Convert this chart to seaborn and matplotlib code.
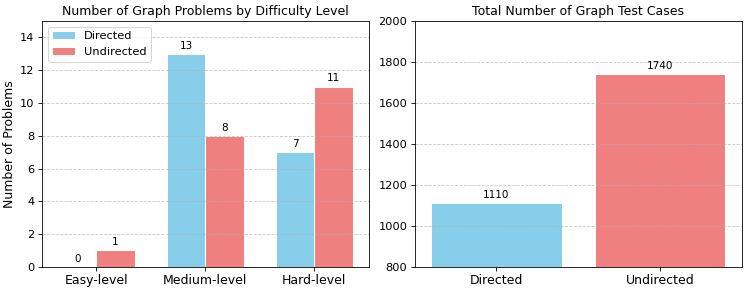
import matplotlib
matplotlib.use("Agg")
import matplotlib.pyplot as plt
import seaborn as sns
import pandas as pd

# data
levels = ["Easy-level", "Medium-level", "Hard-level"]
directed_counts = [0, 13, 7]
undirected_counts = [1, 8, 11]
graph_types = ["Directed", "Undirected"]
test_cases = [1110, 1740]

colors = ["skyblue", "lightcoral"]

df_levels = pd.DataFrame({
    "level": levels * 2,
    "count": directed_counts + undirected_counts,
    "type": ["Directed"] * len(levels) + ["Undirected"] * len(levels),
})
df_cases = pd.DataFrame({"type": graph_types, "cases": test_cases})

plt.rcParams["font.family"] = ["DejaVu Sans"]

fig, (ax1, ax2) = plt.subplots(1, 2, figsize=(10, 3.909), dpi=74.7)
fig.subplots_adjust(left=0.056, right=0.993, top=0.928, bottom=0.086, wspace=0.14)

# left: problems by difficulty
sns.barplot(data=df_levels, x="level", y="count", hue="type", palette=colors,
            saturation=1, width=0.7, edgecolor="white", linewidth=1, ax=ax1)
for c in ax1.containers:
    ax1.bar_label(c, padding=3, fontsize=10)
ax1.set_ylim(0, 15)
ax1.set_title("Number of Graph Problems by Difficulty Level", fontsize=12)
ax1.set_xlabel("")
ax1.set_ylabel("Number of Problems", fontsize=12)
ax1.tick_params(axis="x", labelsize=12)
ax1.tick_params(axis="y", labelsize=11)
ax1.grid(axis="y", linestyle="--", alpha=0.7)
ax1.legend(title=None, loc="upper left", fontsize=11)

# right: total test cases
sns.barplot(data=df_cases, x="type", y="cases", hue="type", palette=colors,
            saturation=1, width=0.8, edgecolor="white", linewidth=1, ax=ax2, legend=False)
for c in ax2.containers:
    ax2.bar_label(c, padding=3, fontsize=10)
ax2.set_ylim(800, 2000)
ax2.set_title("Total Number of Graph Test Cases", fontsize=12)
ax2.set_xlabel("")
ax2.set_ylabel("")
ax2.tick_params(axis="x", labelsize=12)
ax2.tick_params(axis="y", labelsize=11)
ax2.grid(axis="y", linestyle="--", alpha=0.7)

fig.savefig("out.png", dpi=74.7)
